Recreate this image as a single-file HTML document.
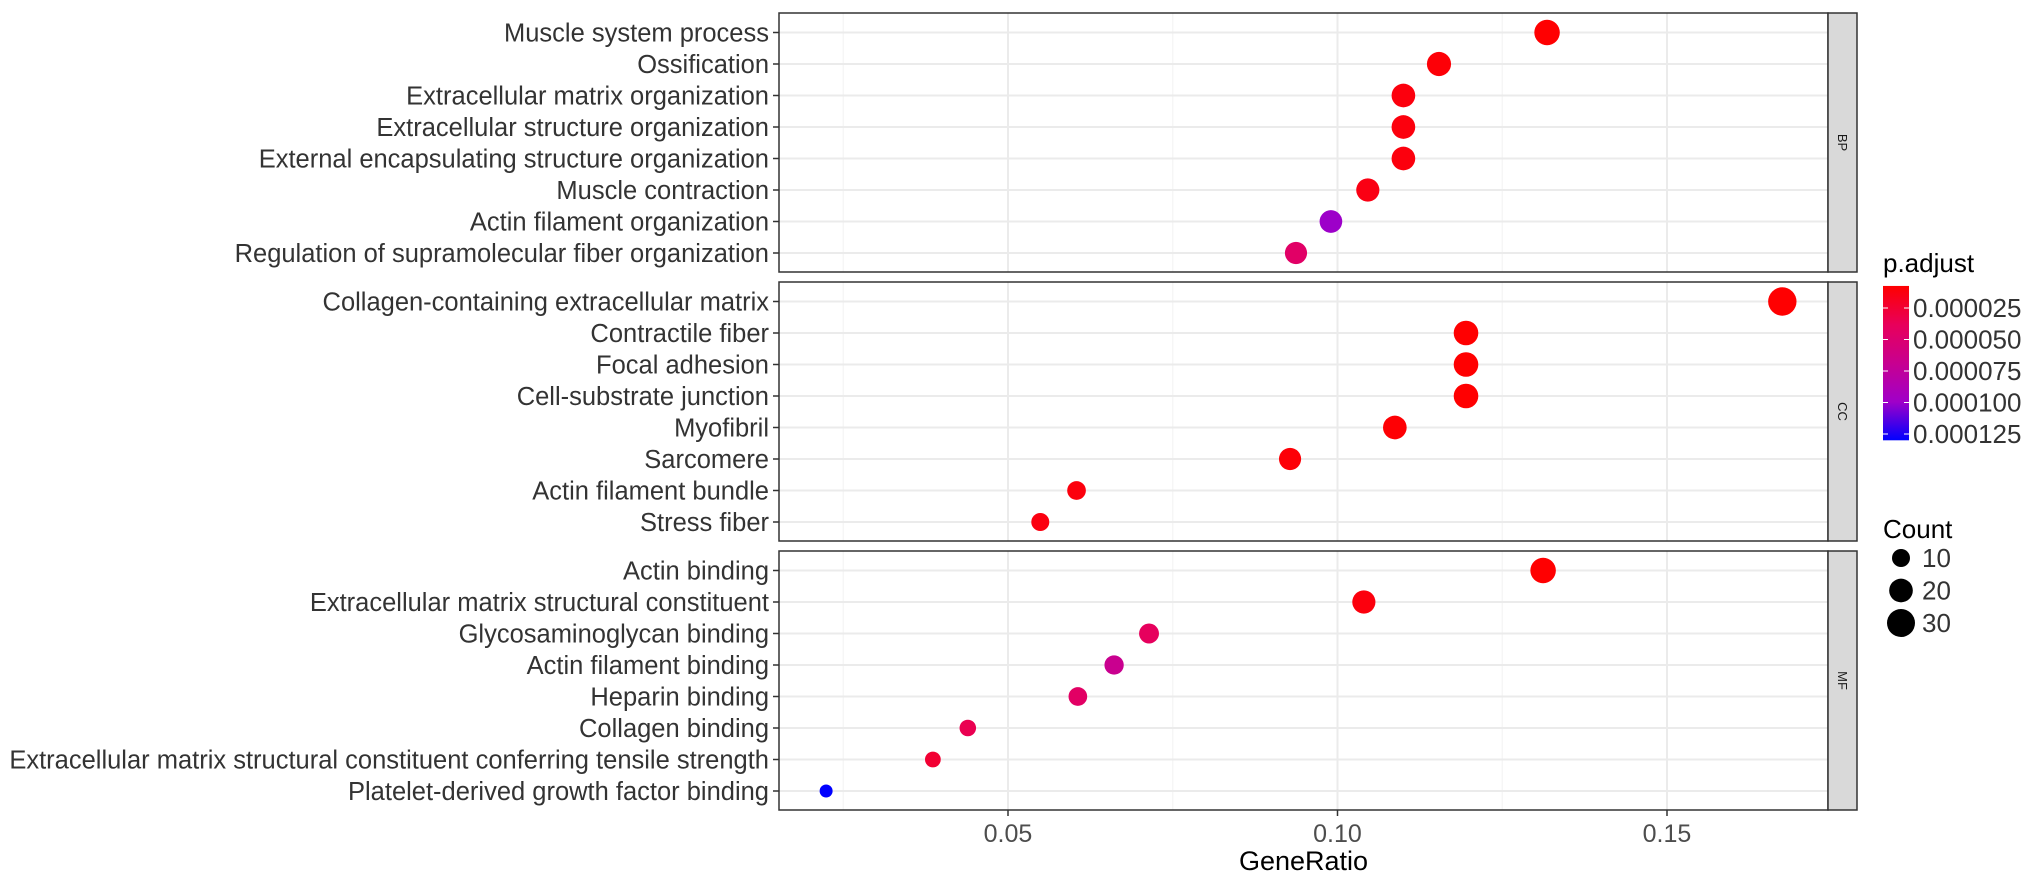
<!DOCTYPE html>
<html><head><meta charset="utf-8"><style>
html,body{margin:0;padding:0;background:#fff;}
svg{display:block;font-family:"Liberation Sans",Arial,sans-serif;}
</style></head><body>
<svg id="chart" width="2032" height="881" viewBox="0 0 2032 881" xmlns="http://www.w3.org/2000/svg">
<g id="grid"></g>
<g id="marks"></g>
<g id="axes"></g>
<g id="legend"></g>
</svg>
<script>
const panels = ["BP","CC","MF"];
const bpTerms = ["Muscle system process","Ossification","Extracellular matrix organization","Extracellular structure organization","External encapsulating structure organization","Muscle contraction","Actin filament organization","Regulation of supramolecular fiber organization"];
const bpRatio = [0.1318,0.1154,0.110,0.110,0.110,0.1046,0.099,0.0937];
const bpCount = [24,21,20,20,20,19,18,17];
const bpPadj = [0.000008,0.00001,0.000012,0.000012,0.000012,0.000014,0.0001,0.000045];
const ccTerms = ["Collagen-containing extracellular matrix","Contractile fiber","Focal adhesion","Cell-substrate junction","Myofibril","Sarcomere","Actin filament bundle","Stress fiber"];
const ccRatio = [0.1675,0.1195,0.1195,0.1195,0.1087,0.0928,0.0604,0.0549];
const ccCount = [31,22,22,22,20,17,11,10];
const ccPadj = [0.000008,0.000008,0.000008,0.000008,0.000009,0.00001,0.000012,0.000013];
const mfTerms = ["Actin binding","Extracellular matrix structural constituent","Glycosaminoglycan binding","Actin filament binding","Heparin binding","Collagen binding","Extracellular matrix structural constituent conferring tensile strength","Platelet-derived growth factor binding"];
const mfRatio = [0.1312,0.104,0.0714,0.0661,0.0606,0.0439,0.0386,0.0224];
const mfCount = [24,19,13,12,11,8,7,4];
const mfPadj = [0.000008,0.000012,0.00004,0.000068,0.000044,0.000035,0.000025,0.00013];
const xTicks = [0.05,0.10,0.15];
const xTickLabels = ["0.05","0.10","0.15"];
const xMinor = [0.025,0.075,0.125,0.175];
const padjTicks = [0.000025,0.00005,0.000075,0.0001,0.000125];
const padjLabels = ["0.000025","0.000050","0.000075","0.000100","0.000125"];
const countTicks = [10,20,30];

const NS="http://www.w3.org/2000/svg";
function mk(parent,tag,attrs,text){const e=document.createElementNS(NS,tag);for(const k in attrs)e.setAttribute(k,attrs[k]);if(text!==undefined)e.textContent=text;parent.appendChild(e);return e;}
const PL=779, PR=1828, SR=1857;
const panelTops=[13,282,551], PH=259;
function xs(v){return 1008+(v-0.05)*6590;}
function ys(p,i){return panelTops[p]+19.5+i*31.5;}
function rs(c){return 2.17+2.16*Math.sqrt(c);}
const stops=[[0,[255,0,0]],[0.25,[232,0,90]],[0.5,[200,0,144]],[0.75,[160,0,200]],[1,[0,0,255]]];
const PMIN=0.0000075, PMAX=0.00013;
function col(p){let t=Math.max(0,Math.min(1,(p-PMIN)/(PMAX-PMIN)));for(let i=1;i<stops.length;i++){if(t<=stops[i][0]){const a=stops[i-1],b=stops[i];const f=(t-a[0])/(b[0]-a[0]);const c=a[1].map((v,j)=>Math.round(v+(b[1][j]-v)*f));return `rgb(${c.join(',')})`;}}return 'rgb(0,0,255)';}
function cy(v){return 308+(v-0.000025)*1.26e6;}

const grid=document.getElementById('grid'),marks=document.getElementById('marks'),axes=document.getElementById('axes'),legend=document.getElementById('legend');
const data=[[bpTerms,bpRatio,bpCount,bpPadj],[ccTerms,ccRatio,ccCount,ccPadj],[mfTerms,mfRatio,mfCount,mfPadj]];
data.forEach((d,p)=>{
  const top=panelTops[p];
  const bg=mk(grid,'rect',{x:PL,y:top,width:PR-PL,height:PH,fill:'#fff'});
  
  
  xMinor.forEach(v=>{if(xs(v)<PR){const l=mk(grid,'line',{x1:xs(v),x2:xs(v),y1:top,y2:top+PH,stroke:'#f4f4f4','stroke-width':1.2});}});
  xTicks.forEach(v=>{const l=mk(grid,'line',{x1:xs(v),x2:xs(v),y1:top,y2:top+PH,stroke:'#ebebeb','stroke-width':2});});
  d[0].forEach((t,i)=>{
    const y=ys(p,i);
    const g=mk(grid,'line',{x1:PL,x2:PR,y1:y,y2:y,stroke:'#ebebeb','stroke-width':2});
    
    
    const tk=mk(axes,'line',{x1:PL-6,x2:PL,y1:y,y2:y,stroke:'#333','stroke-width':1.5});
    
    
    const lb=mk(axes,'text',{x:PL-10,y:y+9,'text-anchor':'end','font-size':25.5,fill:'#333'},t);
    
    
    const c=mk(marks,'circle',{cx:xs(d[1][i]),cy:y,r:rs(d[2][i]),fill:col(d[3][i])});
    
    
  });
  const br=mk(axes,'rect',{x:PL,y:top,width:PR-PL,height:PH,fill:'none',stroke:'#333','stroke-width':1.5});
  
  
  const st=mk(axes,'rect',{x:PR,y:top,width:SR-PR,height:PH,fill:'#d9d9d9',stroke:'#333','stroke-width':1.5});
  
  
  const sx=(PR+SR)/2, sy=top+PH/2;
  const stt=mk(axes,'text',{x:sx,y:sy,'text-anchor':'middle','dominant-baseline':'central','font-size':13,fill:'#1a1a1a',transform:`rotate(90 ${sx} ${sy})`},panels[p]);
  
  
});
const bottom=panelTops[2]+PH;
xTicks.forEach((v,i)=>{
  const t=mk(axes,'line',{x1:xs(v),x2:xs(v),y1:bottom,y2:bottom+6,stroke:'#333','stroke-width':1.5});
  
  
  const l=mk(axes,'text',{x:xs(v),y:bottom+32,'text-anchor':'middle','font-size':25,fill:'#4d4d4d'},xTickLabels[i]);
  
  
});
const xt=mk(axes,'text',{x:(PL+PR)/2,y:870,'text-anchor':'middle','font-size':27,fill:'#000'},'GeneRatio');



// legend
const lt=mk(legend,'text',{x:1883,y:272,'font-size':26,fill:'#000'},'p.adjust');


const defs=mk(legend,'defs',{});
const lg=mk(defs,'linearGradient',{id:'pg',x1:0,y1:0,x2:0,y2:1});
for(let k=0;k<=20;k++){mk(lg,'stop',{offset:k/20,'stop-color':col(PMIN+(PMAX-PMIN)*k/20)});}
const cb=mk(legend,'rect',{x:1883,y:cy(PMIN),width:26,height:cy(PMAX)-cy(PMIN),fill:'url(#pg)'});


padjTicks.forEach((v,i)=>{
  const y=cy(v);
  mk(legend,'line',{x1:1883,x2:1888,y1:y,y2:y,stroke:'#fff','stroke-width':1});
  mk(legend,'line',{x1:1904,x2:1909,y1:y,y2:y,stroke:'#fff','stroke-width':1});
  const l=mk(legend,'text',{x:1913,y:y+9,'font-size':26,fill:'#333'},padjLabels[i]);
  
  
});
const ct=mk(legend,'text',{x:1883,y:538,'font-size':26,fill:'#000'},'Count');


countTicks.forEach((c,i)=>{
  const y=558+i*32.5;
  const k=mk(legend,'circle',{cx:1901,cy:y,r:rs(c),fill:'#000'});
  
  
  const l=mk(legend,'text',{x:1922,y:y+9,'font-size':26,fill:'#333'},String(c));
  
  
});
</script>
</body></html>
